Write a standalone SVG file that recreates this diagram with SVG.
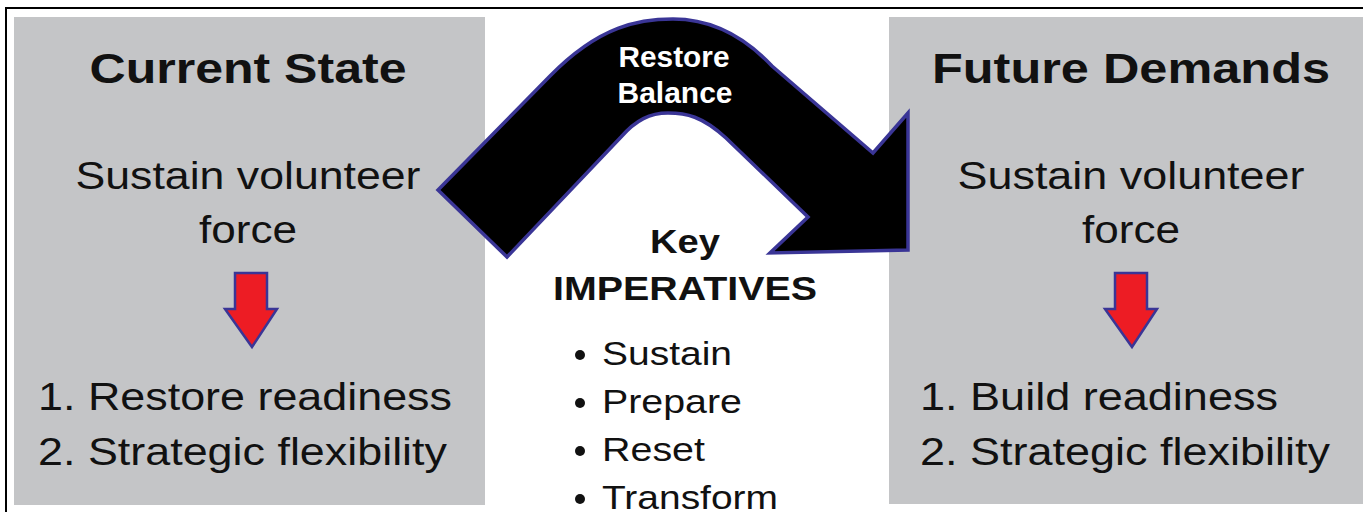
<svg xmlns="http://www.w3.org/2000/svg" width="1363" height="512" viewBox="0 0 1363 512">
<style>
.t{font-family:"Liberation Sans",Arial,sans-serif;fill:#111}
.b{font-weight:bold}
.box{fill:#c4c5c7}
.red{fill:#ed1c24;stroke:#3a3596;stroke-width:2.5;stroke-linejoin:miter}
</style>
<rect x="0" y="0" width="1363" height="512" fill="#fff"/>
<rect x="6" y="8" width="1400" height="600" fill="#fff" stroke="#000" stroke-width="2"/>
<g id="current-state">
<rect class="box" x="14" y="17" width="471" height="488"/>
<text class="t b" x="248" y="83" font-size="42" text-anchor="middle" textLength="317" lengthAdjust="spacingAndGlyphs">Current State</text>
<text class="t" x="248" y="189" font-size="38" text-anchor="middle" textLength="345" lengthAdjust="spacingAndGlyphs">Sustain volunteer</text>
<text class="t" x="248" y="243" font-size="38" text-anchor="middle" textLength="98" lengthAdjust="spacingAndGlyphs">force</text>
<path class="red" d="M235,273 L267,273 L267,309 L277,309 L252,347 L225,309 L235,309 Z"/>
<text class="t" x="38" y="410" font-size="38" textLength="414" lengthAdjust="spacingAndGlyphs">1. Restore readiness</text>
<text class="t" x="38" y="465" font-size="38" textLength="409" lengthAdjust="spacingAndGlyphs">2. Strategic flexibility</text>
</g>
<g id="future-demands">
<rect class="box" x="889" y="17" width="474" height="487"/>
<text class="t b" x="1131" y="83" font-size="42" text-anchor="middle" textLength="398" lengthAdjust="spacingAndGlyphs">Future Demands</text>
<text class="t" x="1131" y="189" font-size="38" text-anchor="middle" textLength="347" lengthAdjust="spacingAndGlyphs">Sustain volunteer</text>
<text class="t" x="1131" y="243" font-size="38" text-anchor="middle" textLength="98" lengthAdjust="spacingAndGlyphs">force</text>
<path class="red" d="M1115,273 L1147,273 L1147,309 L1157,309 L1132,347 L1105,309 L1115,309 Z"/>
<text class="t" x="920" y="410" font-size="38" textLength="358" lengthAdjust="spacingAndGlyphs">1. Build readiness</text>
<text class="t" x="920" y="465" font-size="38" textLength="410" lengthAdjust="spacingAndGlyphs">2. Strategic flexibility</text>
</g>
<g id="key-imperatives">
<text class="t b" x="685" y="253" font-size="33" text-anchor="middle" textLength="70" lengthAdjust="spacingAndGlyphs">Key</text>
<text class="t b" x="685" y="300" font-size="33" text-anchor="middle" textLength="264" lengthAdjust="spacingAndGlyphs">IMPERATIVES</text>
<g class="t" font-size="33">
<circle cx="580" cy="355" r="5" fill="#111"/>
<text x="602" y="365" textLength="130" lengthAdjust="spacingAndGlyphs">Sustain</text>
<circle cx="580" cy="403" r="5" fill="#111"/>
<text x="602" y="413" textLength="140" lengthAdjust="spacingAndGlyphs">Prepare</text>
<circle cx="580" cy="451" r="5" fill="#111"/>
<text x="602" y="461" textLength="103" lengthAdjust="spacingAndGlyphs">Reset</text>
<circle cx="580" cy="499" r="5" fill="#111"/>
<text x="602" y="509" textLength="176" lengthAdjust="spacingAndGlyphs">Transform</text>
</g>
</g>
<g id="connectors">
<g id="restore-balance">
<path d="M438,190 L550,76 C600,25 640,19 673,19 C706,19 740,32 772,66 L873,153 L908,113 L908,250 L770,253 L808,217 L726,138 C702,116 686,113 668,113 C650,113 636,120 621,137 L507,257 Z" fill="#000" stroke="#3a3596" stroke-width="3.5" stroke-linejoin="miter"/>
<text class="b" x="674" y="67" font-size="30" text-anchor="middle" font-family="Liberation Sans,Arial,sans-serif" fill="#fff" textLength="111" lengthAdjust="spacingAndGlyphs">Restore</text>
<text class="b" x="675" y="103" font-size="30" text-anchor="middle" font-family="Liberation Sans,Arial,sans-serif" fill="#fff" textLength="115" lengthAdjust="spacingAndGlyphs">Balance</text>
</g>
</g>
</svg>
